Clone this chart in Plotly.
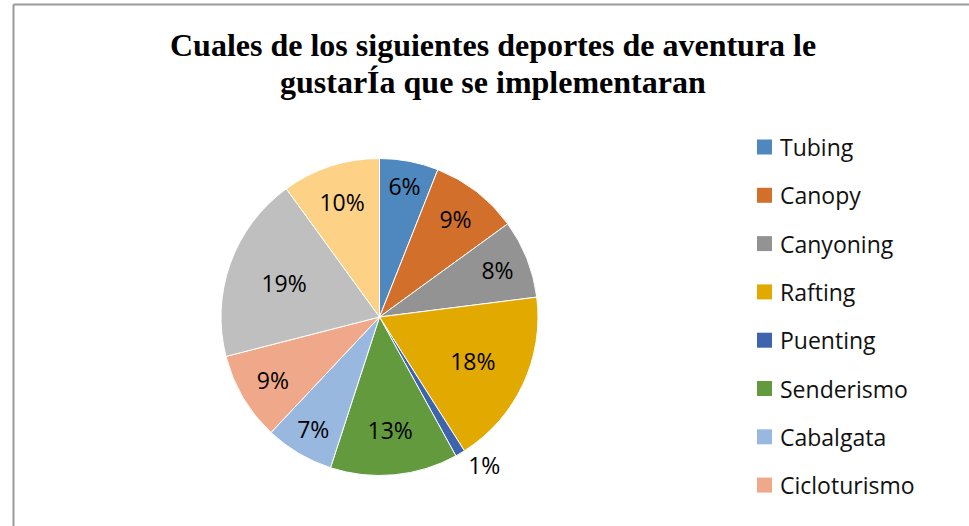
import plotly.graph_objects as go

W, H = 969, 526

deportes = ["Tubing", "Canopy", "Canyoning", "Rafting", "Puenting",
            "Senderismo", "Cabalgata", "Cicloturismo", "Escalada", "Parapente"]
porcentajes = [6, 9, 8, 18, 1, 13, 7, 9, 19, 10]
colores = ["#4F88BE", "#D2702B", "#939393", "#E2AA00", "#3D64AD",
           "#629A3D", "#98B8E0", "#F0A88A", "#BFBFBF", "#FDD287"]
titulo = ["Cuales de los siguientes deportes de aventura le",
          "gustarÍa que se implementaran"]
# only the first 8 entries are visible in the original legend
n_leyenda = 8

fig = go.Figure(go.Pie(
    labels=deportes,
    values=porcentajes,
    sort=False,
    direction="clockwise",
    rotation=0,
    marker=dict(colors=colores, line=dict(color="white", width=1)),
    texttemplate="%{percent:.0%}",
    textposition=["inside"] * 4 + ["outside"] + ["inside"] * 5,
    insidetextorientation="horizontal",
    textfont=dict(family="Open Sans", size=23, color="black"),
    domain=dict(x=[221 / W, 538 / W], y=[1 - 476 / H, 1 - 158 / H]),
    showlegend=False,
))

shapes = []
annotations = []
# border of the chart area
shapes.append(dict(type="line", xref="paper", yref="paper",
                   x0=13.5 / W, x1=1, y0=1 - 4.5 / H, y1=1 - 4.5 / H,
                   line=dict(color="#9A9A9A", width=2)))
shapes.append(dict(type="line", xref="paper", yref="paper",
                   x0=13.5 / W, x1=13.5 / W, y0=0, y1=1 - 4.5 / H,
                   line=dict(color="#9A9A9A", width=2)))

# title, one annotation per line
for i, linea in enumerate(titulo):
    annotations.append(dict(xref="paper", yref="paper", x=493 / W, y=1 - (45 + 37 * i) / H,
                            xanchor="center", yanchor="middle", showarrow=False,
                            text="<b>" + linea + "</b>",
                            font=dict(family="Liberation Serif", size=32, color="black")))

# hand-drawn legend (the original is clipped after 8 items)
for i in range(n_leyenda):
    yc = 147 + i * 48.3
    shapes.append(dict(type="rect", xref="paper", yref="paper",
                       x0=757 / W, x1=772 / W,
                       y0=1 - (yc + 7.5) / H, y1=1 - (yc - 7.5) / H,
                       fillcolor=colores[i], line=dict(width=0)))
    annotations.append(dict(xref="paper", yref="paper", x=778 / W, y=1 - yc / H,
                            xanchor="left", yanchor="middle", showarrow=False,
                            text=deportes[i],
                            font=dict(family="Open Sans", size=23, color="#111111")))

fig.update_layout(
    width=W, height=H,
    margin=dict(l=0, r=0, t=0, b=0),
    paper_bgcolor="white",
    shapes=shapes,
    annotations=annotations,
)

fig.write_html("out.html", config={"displayModeBar": False},
               post_script="document.body.style.margin='0';")
